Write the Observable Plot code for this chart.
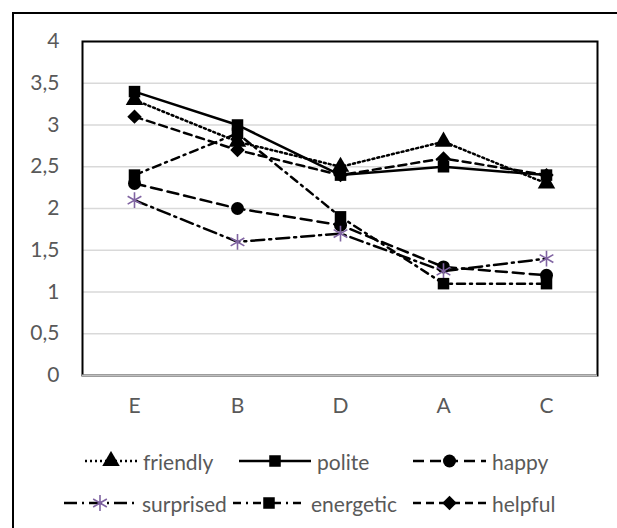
<!DOCTYPE html>
<html><head><meta charset="utf-8">
<script src="https://cdn.jsdelivr.net/npm/d3@7"></script>
<script src="https://cdn.jsdelivr.net/npm/@observablehq/plot@0.6"></script>
<style>
html,body{margin:0;padding:0;background:#fff;overflow:hidden;width:617px;height:528px;}
#border{position:absolute;left:12px;top:12px;width:700px;height:700px;border:2px solid #000;box-sizing:border-box;}
#chart{position:absolute;left:0;top:0;}
#legend{position:absolute;left:0;top:0;width:617px;height:528px;font-family:Lato,sans-serif;font-size:21px;color:#595959;}
.item{position:absolute;display:flex;align-items:center;height:30px;white-space:nowrap;}
.item svg{display:block;margin-right:6px;}
</style></head><body>
<div id="border"></div><div id="chart"></div><div id="legend"></div>
<script>
// ---- data ----
const categories = ["E", "B", "D", "A", "C"];
const friendly  = [3.3, 2.8, 2.5, 2.8, 2.3];
const polite    = [3.4, 3.0, 2.4, 2.5, 2.4];
const happy     = [2.3, 2.0, 1.8, 1.3, 1.2];
const surprised = [2.1, 1.6, 1.7, 1.25, 1.4];
const energetic = [2.4, 2.9, 1.9, 1.1, 1.1];
const helpful   = [3.1, 2.7, 2.4, 2.6, 2.4];
const seriesNames = ["friendly", "polite", "happy", "surprised", "energetic", "helpful"];
const yTicks = [0, 0.5, 1, 1.5, 2, 2.5, 3, 3.5, 4];

// ---- styles ----
const seriesValues = {friendly, polite, happy, surprised, energetic, helpful};
const styles = {
  friendly:  {dash: "2 3",        symbol: "triangle", fill: "#000", stroke: "none", r: 6.5},
  polite:    {dash: null,         symbol: "square",   fill: "#000", stroke: "none", r: 6.5},
  happy:     {dash: "11 6",       symbol: "circle",   fill: "#000", stroke: "none", r: 6.5},
  surprised: {dash: "13 5 2 5",   symbol: "asterisk", fill: "none", stroke: "#8064a2", r: 7.5},
  energetic: {dash: "8 5 2 5",    symbol: "square",   fill: "#000", stroke: "none", r: 6.5},
  helpful:   {dash: "8 5",        symbol: "diamond2", fill: "#000", stroke: "none", r: 6.5}
};
const legendLayout = {
  friendly:  {x: 85,  y: 461, w: 52},
  polite:    {x: 239, y: 461, w: 72},
  happy:     {x: 413, y: 461, w: 73},
  surprised: {x: 64,  y: 503, w: 72},
  energetic: {x: 233, y: 503, w: 72},
  helpful:   {x: 413, y: 503, w: 73}
};

const fmt = d => String(d).replace(".", ",");

const seriesMarks = seriesNames.flatMap(name => {
  const rows = categories.map((c, i) => ({cat: c, v: seriesValues[name][i]}));
  const s = styles[name];
  return [
    Plot.line(rows, {x: "cat", y: "v", stroke: "#000", strokeWidth: 2.5, strokeDasharray: s.dash || undefined}),
    Plot.dot(rows, {x: "cat", y: "v", symbol: () => s.symbol, r: s.r, fill: s.fill, stroke: s.stroke, strokeWidth: 1.6})
  ];
});

const chart = Plot.plot({
  width: 617, height: 430,
  marginLeft: 82, marginRight: 20, marginTop: 41, marginBottom: 55,
  style: {fontFamily: "Lato, sans-serif", fontSize: "21px", color: "#595959", background: "transparent", overflow: "visible"},
  x: {type: "point", domain: categories, padding: 0.5, label: null},
  y: {domain: [0, 4], label: null},
  symbol: {type: "identity"},
  marks: [
    Plot.gridY(yTicks, {stroke: "#d9d9d9", strokeOpacity: 1, strokeWidth: 1.5}),
    Plot.axisY(yTicks, {tickSize: 0, tickPadding: 23, tickFormat: fmt, label: null, fill: "#595959"}),
    Plot.axisX({tickSize: 0, tickPadding: 23, label: null, fill: "#595959"}),
    Plot.frame({stroke: "#000", strokeWidth: 2}),
    Plot.ruleY([0], {stroke: "#bfbfbf", strokeWidth: 2}),
    ...seriesMarks
  ]
});
document.getElementById("chart").appendChild(chart);

// ---- legend ----
const legend = d3.select("#legend");
seriesNames.forEach(name => {
  const s = styles[name], L = legendLayout[name];
  const item = legend.append("div").attr("class", "item")
    .style("left", L.x + "px").style("top", (L.y - 15) + "px");
  const svg = item.append("svg").attr("width", L.w).attr("height", 20);
  svg.append("line").attr("x1", 0).attr("x2", L.w).attr("y1", 10).attr("y2", 10)
    .attr("stroke", "#000").attr("stroke-width", 2.5)
    .attr("stroke-dasharray", s.dash);
  const symType = {triangle: d3.symbolTriangle, square: d3.symbolSquare, circle: d3.symbolCircle,
                   asterisk: d3.symbolAsterisk, diamond2: d3.symbolDiamond2}[s.symbol];
  svg.append("path").attr("transform", `translate(${L.w / 2},10)`)
    .attr("d", d3.symbol(symType, s.r * s.r * Math.PI)())
    .attr("fill", s.fill).attr("stroke", s.stroke).attr("stroke-width", 1.6);
  item.append("span").text(name);
});
</script>
</body></html>
